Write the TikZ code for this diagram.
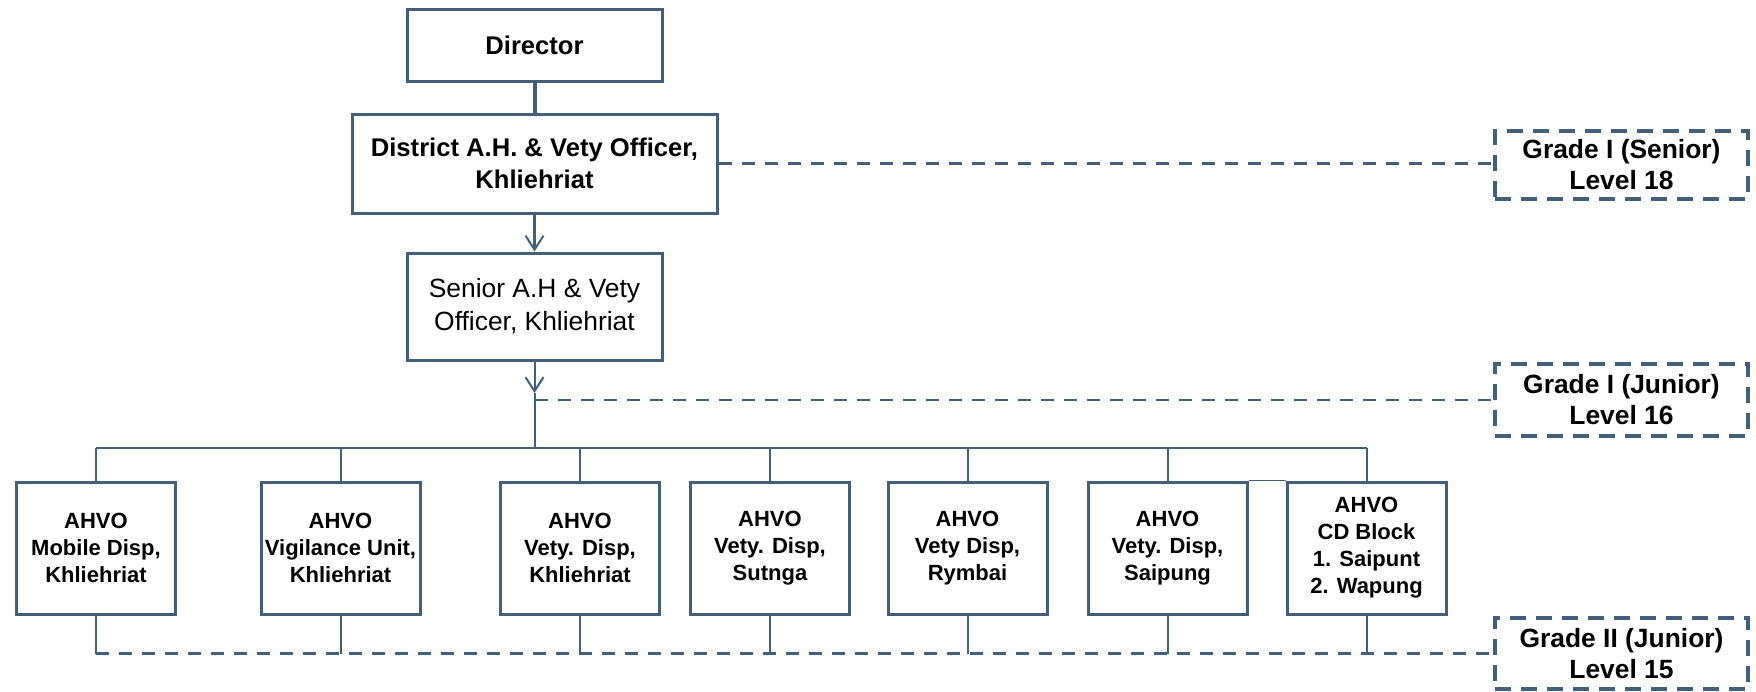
\documentclass[tikz,border=0pt]{standalone}
\usepackage{fontspec}
\setmainfont{Liberation Sans}
\usepackage{tikz}
\usetikzlibrary{arrows.meta}
\usetikzlibrary{calc}

\definecolor{orgline}{RGB}{66,96,124}

\begin{document}
\begin{tikzpicture}[x=0.5pt, y=-0.5pt,
  topbox/.style={draw=orgline, line width=1.5pt, align=center, inner sep=0pt},
  ahvobox/.style={draw=orgline, line width=1.5pt, align=center, inner sep=0pt,
     minimum width=79.5pt, minimum height=66pt,
     font=\fontsize{11}{13.5}\selectfont\bfseries},
  gradebox/.style={draw=orgline, line width=1.6pt, dash pattern=on 8pt off 5pt,
     align=center, inner sep=0pt, minimum width=126.5pt,
     font=\fontsize{13.2}{15.5}\selectfont\bfseries},
  link/.style={draw=orgline, line width=1pt},
  gradelink/.style={draw=orgline, line width=1.3pt, dash pattern=on 6.5pt off 5pt},
  >={Straight Barb[length=7pt,width=9pt,line width=1pt]}]

  \useasboundingbox (0,0) rectangle (1756,691);

  % top of the chart
  \node[topbox, minimum width=127.5pt, minimum height=36pt,
        font=\fontsize{12.8}{15.5}\selectfont\bfseries] (director) at (534.5,45) {Director};
  \node[topbox, minimum width=182.5pt, minimum height=49.5pt,
        font=\fontsize{12.8}{16}\selectfont\bfseries] (district) at (534.5,163.5)
        {District A.H. \& Vety Officer,\\ Khliehriat};
  \node[topbox, minimum width=127.5pt, minimum height=53.5pt,
        font=\fontsize{13.2}{16.5}\selectfont] (senior) at (534.5,306.5)
        {Senior A.H \& Vety\\ Officer, Khliehriat};

  % grades
  \node[gradebox, minimum height=34pt] (gradeA) at (1621.5,165) {Grade I (Senior)\\ Level 18};
  \node[gradebox, minimum height=36pt] (gradeB) at (1621.5,400) {Grade I (Junior)\\ Level 16};
  \node[gradebox, minimum height=35.5pt] (gradeC) at (1621.5,653.5) {Grade II (Junior)\\ Level 15};

  % AHVO row
  \node[ahvobox] (b1) at (96,548) {AHVO\\ Mobile Disp,\\ Khliehriat};
  \node[ahvobox] (b2) at (340.5,548) {AHVO\\ Vigilance Unit,\\ Khliehriat};
  \node[ahvobox] (b3) at (580,548) {AHVO\\ Vety. Disp,\\ Khliehriat};
  \node[ahvobox] (b4) at (770,548) {AHVO\\ Vety. Disp,\\ Sutnga};
  \node[ahvobox] (b5) at (967.5,548) {AHVO\\ Vety Disp,\\ Rymbai};
  \node[ahvobox] (b6) at (1167.5,548) {AHVO\\ Vety. Disp,\\ Saipung};
  \node[ahvobox] (b7) at (1366.5,548) {AHVO\\ CD Block\\ 1. Saipunt\\ 2. Wapung};

  \coordinate (tipB) at (534.5,393);
  \coordinate (jn) at (534.5,400);
  \coordinate (bus) at (534.5,448);

  % connectors
  \draw[link, line width=2pt] (director) -- (district);
  \draw[link, line width=1.3pt, ->] (district) -- (senior);
  \draw[link, ->] (senior) -- (tipB);
  \draw[link] (tipB) -- (bus);
  \draw[link] (bus -| b1.north) -- (bus -| b7.north);
  \foreach \b in {b1,b2,b3,b4,b5,b6,b7} {
    \draw[link] (bus -| \b.north) -- (\b.north);
    \draw[link] (\b.south) -- (\b.south |- gradeC.west);
  }
  \draw[link, line width=0.6pt] (b6.north east) -- (b7.north west);

  % grade lines
  \draw[gradelink] (district.east) -- (district.east -| gradeA.west);
  \draw[gradelink] (jn) -- (jn -| gradeB.west);
  \draw[gradelink] (b1.south |- gradeC.west) -- (gradeC.west);

\end{tikzpicture}
\end{document}
